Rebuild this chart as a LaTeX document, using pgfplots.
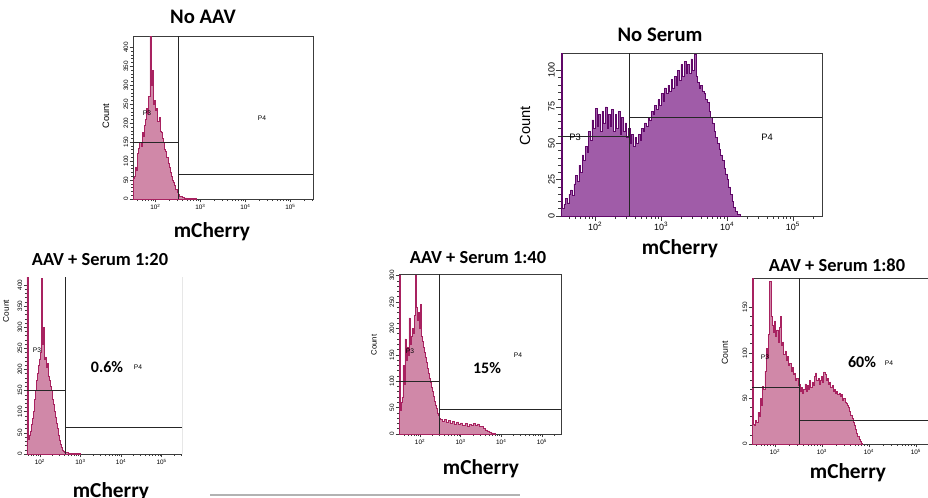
\documentclass[border=0pt]{standalone}
\usepackage{pgfplots}
\pgfplotsset{compat=1.18}
\usepackage{fontspec}
\setmainfont{Liberation Sans}
\newfontfamily\calfont{Carlito}

\definecolor{pinkfill}{RGB}{208,136,168}
\definecolor{pinkline}{RGB}{168,34,96}
\definecolor{purpfill}{RGB}{160,92,168}
\definecolor{purpline}{RGB}{96,8,104}
\definecolor{framec}{RGB}{60,60,60}

\tikzset{gate/.style={black!85, line width=0.6pt}}
\pgfplotsset{
  flow/.style={
    scale only axis, clip=true, anchor=north west,
    axis line style={framec, line width=0.6pt},
    tick align=outside, xtick pos=bottom, ytick pos=left,
    xtick={2,3,4,5},
    xticklabels={10\textsuperscript{2},10\textsuperscript{3},10\textsuperscript{4},10\textsuperscript{5}},
    minor xtick={1.602,1.699,1.778,1.845,1.903,1.954,2.301,2.477,2.602,2.699,2.778,2.845,2.903,2.954,3.301,3.477,3.602,3.699,3.778,3.845,3.903,3.954,4.301,4.477,4.602,4.699,4.778,4.845,4.903,4.954,5.301,5.477},
    ymin=0,
    major tick length=2.5pt, minor tick length=1.5pt,
    every tick/.append style={framec, line width=0.4pt},
    minor y tick num=4,
    /pgf/number format/assume math mode=true,
    yticklabel style={rotate=90, anchor=south, inner sep=1pt},
    xticklabel style={inner sep=1pt},
    tick label style={font=\fontsize{4.8}{5}\selectfont},
  },
  hist/.style={const plot, fill=pinkfill, draw=pinkline, line width=0.4pt},
}

\begin{document}
\begin{tikzpicture}[x=0.75pt, y=-0.75pt]
\path[use as bounding box] (0,0) rectangle (928,497);
\clip (0,0) rectangle (928,497);

% No AAV
\begin{axis}[flow, at={(99.75pt,-27pt)}, width=135pt, height=122.25pt,
  xmin=1.5, xmax=5.5, ymax=430, ytick={0,50,...,400}]
\addplot[hist] coordinates {
(1.500,55) (1.525,60) (1.550,85) (1.575,75) (1.600,120) (1.625,135) (1.650,150) (1.675,140)
(1.700,175) (1.725,165) (1.750,195) (1.775,210) (1.800,240) (1.825,225) (1.850,270) (1.875,430)
(1.900,300) (1.925,340) (1.950,250) (1.975,260) (2.000,235) (2.025,240) (2.050,205) (2.075,215)
(2.100,180) (2.125,175) (2.150,160) (2.175,150) (2.200,130) (2.225,125) (2.250,110) (2.275,95)
(2.300,85) (2.325,70) (2.350,60) (2.375,50) (2.400,45) (2.425,35) (2.450,25) (2.475,18)
(2.500,12) (2.525,8) (2.550,6) (2.600,4) (2.650,3) (2.700,2) (2.800,1) (2.900,0)
} \closedcycle;
\draw[gate] (axis cs:2.5,0) -- (axis cs:2.5,430);
\draw[gate] (axis cs:1.5,150) -- (axis cs:2.5,150);
\draw[gate] (axis cs:2.5,66) -- (axis cs:5.5,66);
\end{axis}

% No Serum
\begin{axis}[flow, at={(420.75pt,-39.75pt)}, width=195.75pt, height=122.25pt,
  xmin=1.48, xmax=5.44, ymax=112, ytick={0,25,50,75,100},
  tick label style={font=\fontsize{6.75}{7}\selectfont},
  major tick length=3.5pt, minor tick length=2pt]
\addplot[hist, fill=purpfill, draw=purpline] coordinates {
(1.480,120) (1.505,5) (1.525,8) (1.550,12) (1.575,9) (1.600,15) (1.625,18) (1.650,14)
(1.675,22) (1.700,28) (1.725,24) (1.750,35) (1.775,30) (1.800,42) (1.825,38) (1.850,48)
(1.875,44) (1.900,58) (1.925,52) (1.950,66) (1.975,60) (2.000,74) (2.025,62) (2.050,70)
(2.075,58) (2.100,72) (2.125,64) (2.150,75) (2.175,60) (2.200,70) (2.225,62) (2.250,73)
(2.275,58) (2.300,70) (2.325,60) (2.350,72) (2.375,56) (2.400,68) (2.425,58) (2.450,64)
(2.475,54) (2.500,60) (2.525,50) (2.550,56) (2.575,48) (2.600,54) (2.625,50) (2.650,56)
(2.675,52) (2.700,60) (2.725,58) (2.750,64) (2.775,62) (2.800,68) (2.825,66) (2.850,72)
(2.875,70) (2.900,76) (2.925,73) (2.950,80) (2.975,76) (3.000,84) (3.025,79) (3.050,88)
(3.075,84) (3.100,90) (3.125,86) (3.150,94) (3.175,88) (3.200,96) (3.225,90) (3.250,100)
(3.275,93) (3.300,104) (3.325,96) (3.350,106) (3.375,98) (3.400,104) (3.425,98) (3.450,108)
(3.475,100) (3.500,111) (3.525,96) (3.550,92) (3.575,88) (3.600,90) (3.625,86) (3.650,84)
(3.675,80) (3.700,78) (3.725,72) (3.750,68) (3.775,64) (3.800,58) (3.825,54) (3.850,50)
(3.875,46) (3.900,42) (3.925,38) (3.950,33) (3.975,29) (4.000,25) (4.025,20) (4.050,15)
(4.075,10) (4.100,6) (4.125,3) (4.150,1) (4.200,0)
} \closedcycle;
\draw[gate] (axis cs:2.52,0) -- (axis cs:2.52,112);
\draw[gate] (axis cs:1.48,55) -- (axis cs:2.52,55);
\draw[gate] (axis cs:2.52,68) -- (axis cs:5.44,68);
\end{axis}

% AAV + Serum 1:20
\begin{axis}[flow, at={(20.25pt,-207.75pt)}, width=116.25pt, height=132.75pt,
  axis x line*=bottom, axis y line*=left,
  xmin=1.68, xmax=5.5, ymax=419, ytick={0,50,...,400}]
\addplot[hist] coordinates {
(1.680,430) (1.705,35) (1.730,45) (1.755,55) (1.780,70) (1.805,85) (1.830,100) (1.855,130)
(1.880,150) (1.905,175) (1.930,190) (1.955,210) (1.980,225) (2.005,240) (2.030,415) (2.055,260)
(2.080,300) (2.105,225) (2.130,230) (2.155,205) (2.180,215) (2.205,185) (2.230,175) (2.255,160)
(2.280,150) (2.305,130) (2.330,118) (2.355,100) (2.380,88) (2.405,72) (2.430,60) (2.455,45)
(2.480,32) (2.505,22) (2.530,15) (2.555,10) (2.580,6) (2.605,4) (2.650,3) (2.700,2)
(2.800,2) (2.900,1) (3.000,0)
} \closedcycle;
\draw[framec, line width=0.6pt] (axis cs:5.5,0) -- (axis cs:5.5,419);
\draw[gate] (axis cs:2.62,0) -- (axis cs:2.62,419);
\draw[gate] (axis cs:1.68,150) -- (axis cs:2.62,150);
\draw[gate] (axis cs:2.62,62) -- (axis cs:5.5,62);
\end{axis}

% AAV + Serum 1:40
\begin{axis}[flow, at={(299.25pt,-205.5pt)}, width=121.5pt, height=120pt,
  xmin=1.48, xmax=5.47, ymax=303, ytick={0,50,...,300}]
\addplot[hist] coordinates {
(1.480,300) (1.505,45) (1.525,60) (1.550,70) (1.575,130) (1.600,95) (1.625,180) (1.650,140)
(1.675,165) (1.700,150) (1.725,220) (1.750,170) (1.775,185) (1.800,200) (1.825,190) (1.850,225)
(1.875,300) (1.900,240) (1.925,215) (1.950,230) (1.975,200) (2.000,245) (2.025,185) (2.050,175)
(2.075,165) (2.100,155) (2.125,145) (2.150,135) (2.175,125) (2.200,115) (2.225,105) (2.250,98)
(2.275,88) (2.300,80) (2.325,72) (2.350,62) (2.375,55) (2.400,48) (2.425,40) (2.450,35)
(2.475,30) (2.500,28) (2.550,24) (2.600,28) (2.650,22) (2.700,26) (2.750,20) (2.800,24)
(2.850,19) (2.900,23) (2.950,18) (3.000,21) (3.050,16) (3.100,20) (3.150,15) (3.200,18)
(3.250,17) (3.300,20) (3.350,16) (3.400,19) (3.450,14) (3.500,15) (3.550,11) (3.600,8)
(3.650,6) (3.700,4) (3.750,2) (3.800,1) (3.850,0)
} \closedcycle;
\draw[gate] (axis cs:2.47,0) -- (axis cs:2.47,303);
\draw[gate] (axis cs:1.48,100) -- (axis cs:2.47,100);
\draw[gate] (axis cs:2.47,46) -- (axis cs:5.47,46);
\end{axis}

% AAV + Serum 1:80
\begin{axis}[flow, at={(564pt,-208.5pt)}, width=140.25pt, height=124.5pt,
  xmin=1.51, xmax=5.49, ymax=182, ytick={0,50,100,150}]
\addplot[hist] coordinates {
(1.510,200) (1.535,22) (1.560,20) (1.585,26) (1.610,24) (1.635,35) (1.660,30) (1.685,50)
(1.710,42) (1.735,63) (1.760,60) (1.785,80) (1.810,105) (1.835,95) (1.860,120) (1.885,178)
(1.910,140) (1.935,130) (1.960,122) (1.985,135) (2.010,118) (2.035,125) (2.060,112) (2.085,128)
(2.110,140) (2.135,108) (2.160,112) (2.185,98) (2.210,102) (2.235,92) (2.260,96) (2.285,86)
(2.310,88) (2.335,80) (2.360,84) (2.385,76) (2.410,78) (2.435,70) (2.460,72) (2.485,64)
(2.510,66) (2.535,58) (2.560,62) (2.585,56) (2.610,60) (2.635,66) (2.660,58) (2.685,64)
(2.710,60) (2.735,70) (2.760,62) (2.785,68) (2.810,64) (2.835,74) (2.860,78) (2.885,70)
(2.910,72) (2.935,66) (2.960,70) (2.985,74) (3.010,68) (3.035,79) (3.060,76) (3.085,70)
(3.110,72) (3.135,66) (3.160,68) (3.185,62) (3.210,64) (3.235,58) (3.260,60) (3.285,56)
(3.310,58) (3.335,54) (3.360,56) (3.385,52) (3.410,54) (3.435,48) (3.460,50) (3.485,46)
(3.510,45) (3.535,42) (3.560,40) (3.585,36) (3.610,32) (3.635,28) (3.660,24) (3.685,20)
(3.710,16) (3.735,12) (3.760,8) (3.785,5) (3.810,3) (3.835,1) (3.860,0)
} \closedcycle;
\draw[gate] (axis cs:2.51,0) -- (axis cs:2.51,182);
\draw[gate] (axis cs:1.51,62) -- (axis cs:2.51,62);
\draw[gate] (axis cs:2.51,26) -- (axis cs:5.49,26);
\end{axis}

% titles
\begin{scope}[every node/.style={font=\calfont\bfseries\fontsize{15.5}{16}\selectfont, inner sep=0pt}]
\node at (203,17) {No AAV};
\node at (660,35) {No Serum};
\end{scope}
\begin{scope}[every node/.style={font=\calfont\bfseries\fontsize{13.8}{14}\selectfont, inner sep=0pt}]
\node at (100,260) {AAV + Serum 1:20};
\node at (478,258) {AAV + Serum 1:40};
\node at (837,265) {AAV + Serum 1:80};
\end{scope}
% x labels
\begin{scope}[every node/.style={font=\calfont\bfseries\fontsize{16}{17}\selectfont, inner sep=0pt}]
\node at (212,232) {mCherry};
\node at (680,249) {mCherry};
\node at (111,492) {mCherry};
\node at (481,469) {mCherry};
\node at (848,473) {mCherry};
\end{scope}
% y labels
\node[rotate=90, font=\fontsize{7}{8}\selectfont, inner sep=0pt] at (106,116) {Count};
\node[rotate=90, font=\fontsize{11}{12}\selectfont, inner sep=0pt] at (525,126) {Count};
\node[rotate=90, font=\fontsize{6.2}{7}\selectfont, inner sep=0pt] at (6,311) {Count};
\node[rotate=90, font=\fontsize{5.8}{7}\selectfont, inner sep=0pt] at (374,345) {Count};
\node[rotate=90, font=\fontsize{6.5}{7}\selectfont, inner sep=0pt] at (725,353) {Count};
% gate names
\begin{scope}[every node/.style={font=\fontsize{5}{6}\selectfont, inner sep=0pt}]
\node at (147,113) {P3};
\node at (262,118) {P4};
\node at (37,350) {P3};
\node at (138,367) {P4};
\node at (410,351) {P3};
\node at (518,355) {P4};
\node at (765,357) {P3};
\node at (889,363) {P4};
\end{scope}
\node[font=\fontsize{7}{8}\selectfont, inner sep=0pt] at (575,137) {P3};
\node[font=\fontsize{7}{8}\selectfont, inner sep=0pt] at (767,137) {P4};
% percentages
\begin{scope}[every node/.style={font=\calfont\bfseries\fontsize{12}{13}\selectfont, inner sep=0pt}]
\node at (107,367) {0.6\%};
\node at (487,368) {15\%};
\node at (862,362) {60\%};
\end{scope}
\draw[gray!60, line width=1pt] (210,495) -- (520,495);
\end{tikzpicture}
\end{document}
